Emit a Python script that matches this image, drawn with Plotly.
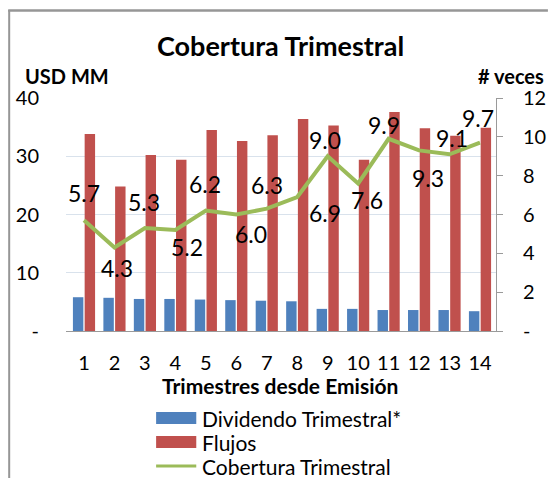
import plotly.graph_objects as go

# ---- data ----
trimestres = [str(i) for i in range(1, 15)]
dividendo = [5.8, 5.7, 5.5, 5.5, 5.4, 5.3, 5.2, 5.1, 3.8, 3.8, 3.6, 3.6, 3.6, 3.4]
flujos = [33.8, 24.8, 30.2, 29.4, 34.5, 32.6, 33.6, 36.4, 35.3, 29.4, 37.6, 34.8, 33.5, 34.9]
cobertura = [5.7, 4.3, 5.3, 5.2, 6.2, 6.0, 6.3, 6.9, 9.0, 7.6, 9.9, 9.3, 9.1, 9.7]

left_tickvals = [0, 10, 20, 30, 40]
left_ticktext = ["-", "10", "20", "30", "40"]
right_tickvals = [0, 2, 4, 6, 8, 10, 12]
right_ticktext = ["-", "2", "4", "6", "8", "10", "12"]

serie_names = ["Dividendo Trimestral*", "Flujos", "Cobertura Trimestral"]

# ---- style ----
FONT = "Lato"
C_BLUE = "#4F81BD"
C_RED = "#C0504D"
C_GREEN = "#9BBB59"
GRID = "#D9E2EC"
AXIS = "#9A9A9A"
BORDER = "#969696"
# label offsets (px) for data labels of the line (dx, dy up)
label_offsets = [(0, 27), (3, -20), (-1, 26), (12, -17), (-1, 27), (15, -19), (0, 24),
                 (28, -16), (-3, 16), (9, -17), (-5, 14), (9, -28), (2, 16), (-2, 25)]

W, H = 558, 478
L, R, T, B = 66, 53, 98, 147
PW, PH = W - L - R, H - T - B


def px(x):
    return (x - L) / PW


def py(y):
    return (H - B - y) / PH


fig = go.Figure()
fig.add_trace(go.Bar(x=trimestres, y=dividendo, name=serie_names[0],
                     marker=dict(color=C_BLUE, line=dict(width=0)), showlegend=False))
fig.add_trace(go.Bar(x=trimestres, y=flujos, name=serie_names[1],
                     marker=dict(color=C_RED, line=dict(width=0)), showlegend=False))
fig.add_trace(go.Scatter(x=trimestres, y=cobertura, name=serie_names[2], yaxis="y2",
                         mode="lines", line=dict(color=C_GREEN, width=4), showlegend=False))

annotations = []
for i, (yv, (dx, dy)) in enumerate(zip(cobertura, label_offsets)):
    annotations.append(dict(x=i, y=yv, xref="x", yref="y2", text=f"{yv:.1f}",
                            showarrow=False, xshift=dx, yshift=dy,
                            font=dict(family=FONT, size=23, color="black")))

# title & axis titles
annotations += [
    dict(text="<b>Cobertura Trimestral</b>", x=px(285), y=py(45), xref="paper", yref="paper",
         showarrow=False, xanchor="center", yanchor="middle",
         font=dict(family=FONT, size=27, color="black")),
    dict(text="<b>USD MM</b>", x=px(22), y=py(76), xref="paper", yref="paper",
         showarrow=False, xanchor="left", yanchor="middle",
         font=dict(family=FONT, size=20, color="black")),
    dict(text="<b># veces</b>", x=px(556), y=py(76), xref="paper", yref="paper",
         showarrow=False, xanchor="right", yanchor="middle",
         font=dict(family=FONT, size=20, color="black")),
    dict(text="<b>Trimestres desde Emisión</b>", x=px(284), y=py(385), xref="paper", yref="paper",
         showarrow=False, xanchor="center", yanchor="middle",
         font=dict(family=FONT, size=21, color="black")),
]

# legend (manual, Excel-style swatches)
shapes = []
leg_rows = [418, 442, 466]
colors = [C_BLUE, C_RED, C_GREEN]
for i, (name, col, yy) in enumerate(zip(serie_names, colors, leg_rows)):
    if i < 2:
        shapes.append(dict(type="rect", xref="paper", yref="paper",
                           x0=px(158), x1=px(199), y0=py(yy - 6), y1=py(yy + 6),
                           fillcolor=col, line=dict(width=0)))
    else:
        shapes.append(dict(type="line", xref="paper", yref="paper",
                           x0=px(158), x1=px(199), y0=py(yy), y1=py(yy),
                           line=dict(color=col, width=3)))
    annotations.append(dict(text=name, x=px(203), y=py(yy), xref="paper", yref="paper",
                            showarrow=False, xanchor="left", yanchor="middle",
                            font=dict(family=FONT, size=21, color="black")))

# chart border (only left and top edges fall inside the picture)
shapes.append(dict(type="line", xref="paper", yref="paper", layer="above",
                   x0=px(8), x1=px(8), y0=py(10), y1=py(478),
                   line=dict(color=BORDER, width=2)))
shapes.append(dict(type="line", xref="paper", yref="paper", layer="above",
                   x0=px(7), x1=px(558), y0=py(10.5), y1=py(10.5),
                   line=dict(color=BORDER, width=2.5)))

fig.update_layout(
    width=W, height=H,
    margin=dict(l=L, r=R, t=T, b=B, pad=0),
    paper_bgcolor="white", plot_bgcolor="white",
    barmode="group", bargap=0.23, bargroupgap=0.11,
    hovermode=False,
    font=dict(family=FONT, size=20, color="black"),
    xaxis=dict(type="category", showgrid=False, showline=True, linecolor=AXIS, linewidth=1,
               ticks="", tickfont=dict(size=20), ticklabelstandoff=14, zeroline=False),
    yaxis=dict(range=[0, 40], tickvals=left_tickvals, ticktext=left_ticktext,
               showgrid=True, gridcolor=GRID, gridwidth=1, showline=False, zeroline=False,
               ticks="", tickfont=dict(size=20), ticklabelstandoff=26),
    yaxis2=dict(range=[0, 12], tickvals=right_tickvals, ticktext=right_ticktext,
                overlaying="y", side="right", showgrid=False, zeroline=False,
                showline=True, linecolor=AXIS, linewidth=1,
                ticks="outside", ticklen=6, tickcolor=AXIS,
                tickfont=dict(size=20), ticklabelstandoff=16),
    annotations=annotations, shapes=shapes,
    showlegend=False,
)

fig.write_html("out.html", config={"displayModeBar": False},
               post_script="document.body.style.margin='0';document.body.style.overflow='hidden';")
